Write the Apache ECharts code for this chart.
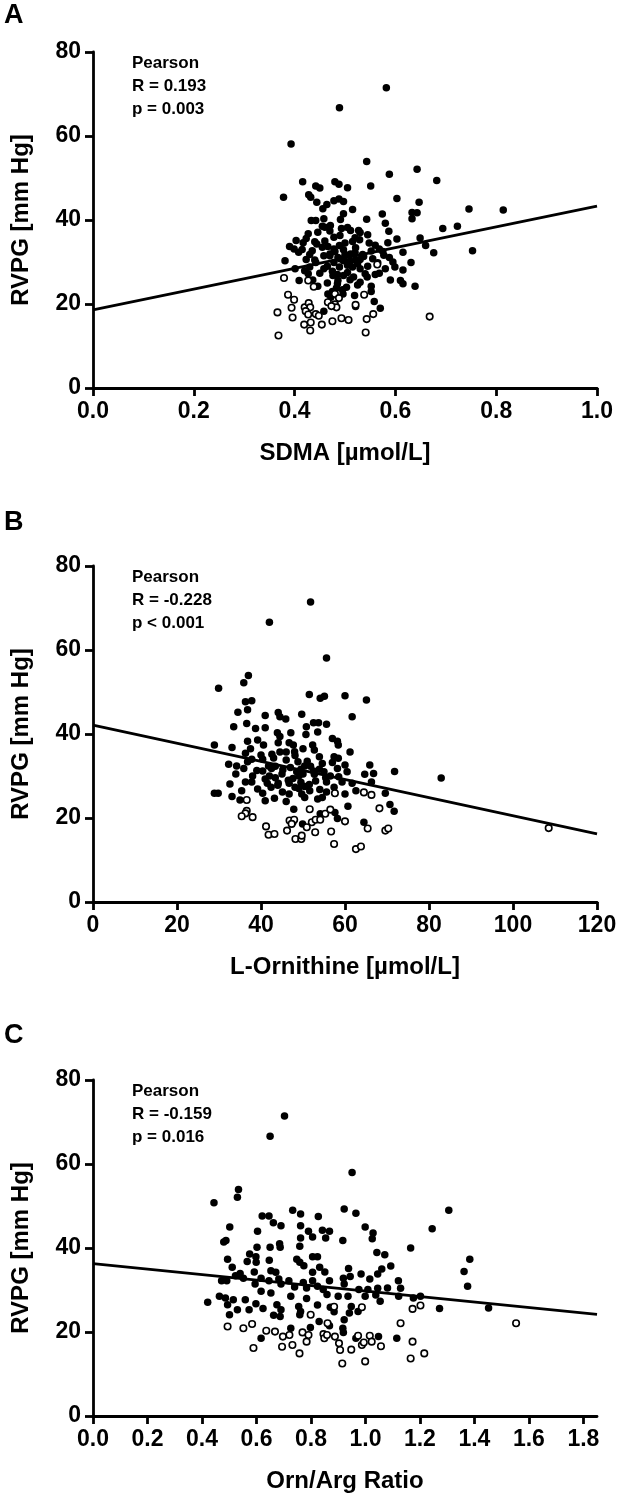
<!DOCTYPE html>
<html>
<head>
<meta charset="utf-8">
<title>RVPG correlations</title>
<script src="https://cdn.jsdelivr.net/npm/echarts@6/dist/echarts.min.js"></script>
<style>
  html, body { margin: 0; padding: 0; background: #fff; }
  #chart { width: 620px; height: 1501px; }
</style>
</head>
<body>
<div id="chart"></div>
<script>
// y axis (shared)
const yTicks = [0, 20, 40, 60, 80];

// panel A: SDMA
const aTicksX = [0, 0.2, 0.4, 0.6, 0.8, 1.0];
const aFilled = [
  [0.582,71.5],[0.489,66.7],[0.393,58.1],[0.543,53.9],[0.643,52.1],[0.588,50.9],[0.682,49.4],[0.416,49.1],
  [0.480,49.1],[0.488,48.5],[0.505,47.7],[0.551,48.1],[0.442,48.1],[0.450,47.6],[0.378,45.4],[0.428,46.0],
  [0.432,45.4],[0.603,45.1],[0.647,44.2],[0.478,44.6],[0.488,45.0],[0.497,44.4],[0.444,44.2],[0.464,43.7],
  [0.456,42.7],[0.515,42.5],[0.746,42.6],[0.814,42.4],[0.633,41.8],[0.643,41.7],[0.497,41.5],[0.574,41.4],
  [0.543,40.2],[0.633,40.3],[0.433,39.9],[0.442,39.9],[0.458,40.3],[0.491,40.1],[0.580,39.2],[0.471,38.7],
  [0.460,38.3],[0.493,38.0],[0.723,38.5],[0.694,38.0],[0.587,37.3],[0.511,37.5],[0.527,37.5],[0.446,37.1],
  [0.427,36.7],[0.478,35.9],[0.423,35.6],[0.603,35.5],[0.649,35.7],[0.403,35.1],[0.417,34.6],[0.515,34.9],
  [0.529,35.3],[0.548,34.5],[0.660,33.9],[0.444,34.3],[0.466,33.7],[0.489,33.9],[0.390,33.7],[0.399,33.1],
  [0.753,32.7],[0.676,32.2],[0.408,32.3],[0.435,32.7],[0.478,33.1],[0.497,32.9],[0.521,33.4],[0.552,32.6],
  [0.568,33.1],[0.615,32.3],[0.458,31.5],[0.470,31.9],[0.486,31.1],[0.511,31.9],[0.537,31.3],[0.577,31.6],
  [0.588,31.1],[0.381,30.3],[0.423,30.6],[0.442,29.9],[0.478,29.9],[0.497,30.3],[0.521,30.5],[0.631,29.9],
  [0.599,28.8],[0.401,28.4],[0.430,28.8],[0.458,28.4],[0.489,28.8],[0.505,29.2],[0.530,28.4],[0.580,28.4],
  [0.615,28.1],[0.568,27.3],[0.427,27.2],[0.450,27.3],[0.476,26.8],[0.497,26.8],[0.517,26.4],[0.544,26.4],
  [0.409,25.6],[0.436,25.7],[0.486,25.6],[0.530,25.2],[0.590,25.7],[0.610,25.6],[0.615,24.8],[0.639,24.2],
  [0.446,24.2],[0.483,23.8],[0.503,24.0],[0.552,24.2],[0.466,22.4],[0.496,22.4],[0.519,22.0],[0.552,23.0],
  [0.558,20.6],[0.521,19.4],[0.570,19.0],[0.472,21.6],[0.458,18.3],
  [0.470,31.5],[0.480,32.5],[0.490,30.8],[0.500,31.8],[0.510,30.2],[0.520,32.2],[0.530,30.6],[0.500,34.5],
  [0.520,35.8],[0.460,35.0],[0.440,30.5],[0.455,33.5],[0.465,29.0],[0.475,27.8],[0.485,27.0],[0.505,27.5],
  [0.515,28.8],[0.525,29.6],[0.535,31.8],[0.545,29.0],[0.555,30.8],[0.565,29.8],[0.490,36.3],[0.470,37.4],
  [0.505,38.2],[0.530,37.0],[0.545,36.5],[0.560,34.0],[0.455,38.5],[0.440,34.8],[0.485,24.8],[0.495,23.4],
  [0.510,25.8],[0.525,24.5],[0.465,25.0],[0.475,23.0],[0.540,27.2],[0.575,32.5],[0.585,34.6],[0.595,30.0],
  [0.560,27.0],[0.430,31.8],[0.415,33.0],[0.420,27.9]
];
const aOpen = [
  [0.379,26.2],[0.427,25.6],[0.438,24.1],[0.564,29.4],[0.387,22.2],[0.399,21.0],[0.394,19.1],[0.396,16.8],
  [0.366,18.0],[0.368,12.5],[0.420,19.2],[0.428,20.2],[0.431,19.2],[0.422,18.3],[0.427,17.5],[0.442,17.6],
  [0.419,15.1],[0.432,15.6],[0.431,13.7],[0.454,15.1],[0.475,15.9],[0.480,22.4],[0.488,21.4],[0.466,20.4],
  [0.480,19.9],[0.483,19.2],[0.493,16.6],[0.507,16.2],[0.538,22.2],[0.521,19.8],[0.543,16.4],[0.556,17.6],
  [0.541,13.2],[0.668,17.0],[0.448,17.2],[0.473,19.5]
];
const aFit = [[0, 18.6], [1.0, 43.3]];

// panel B: L-Ornithine
const bTicksX = [0, 20, 40, 60, 80, 100, 120];
const bFilled = [
  [51.8,71.4],[42.0,66.6],[55.6,58.1],[37.0,53.9],[35.9,52.2],[29.9,50.9],[51.5,49.4],[60.0,49.1],
  [55.1,49.0],[54.1,48.5],[65.1,48.1],[37.8,47.9],[36.3,47.7],[36.8,45.8],[34.5,45.2],[49.7,44.7],
  [41.0,44.4],[44.1,45.1],[44.5,44.1],[45.9,43.6],[61.7,44.1],[52.5,42.7],[53.7,42.7],[55.6,42.3],
  [36.6,42.5],[33.5,41.7],[41.0,41.5],[38.7,41.3],[43.9,40.3],[47.1,40.3],[50.8,41.7],[53.5,40.5],
  [50.7,39.9],[44.5,39.4],[57.0,38.9],[58.2,38.3],[36.8,38.3],[39.2,38.6],[46.7,37.9],[47.7,37.4],
  [44.1,37.9],[52.3,37.4],[28.9,37.4],[40.6,37.4],[58.4,37.4],[33.1,36.8],[52.7,36.2],[61.2,35.7],
  [36.3,35.4],[42.6,35.2],[44.5,35.7],[46.0,35.7],[48.1,34.9],[53.9,34.6],[57.4,34.6],[58.4,34.2],
  [37.8,34.0],[40.4,34.0],[36.8,33.4],[48.8,33.4],[54.6,33.0],[32.3,32.8],[34.2,32.4],[41.8,32.4],
  [43.4,32.3],[60.0,32.6],[65.9,32.6],[71.8,31.1],[50.4,32.4],[51.8,32.3],[35.9,31.8],[40.4,31.2],
  [45.2,31.5],[49.5,31.6],[53.9,31.6],[58.2,31.8],[64.7,30.4],[66.8,30.6],[82.9,29.5],[42.0,30.0],
  [43.4,29.6],[47.6,29.4],[49.0,30.0],[52.7,30.4],[55.4,29.6],[49.5,28.5],[36.3,28.6],[37.8,28.6],
  [41.5,28.3],[44.1,28.3],[46.7,28.3],[55.6,28.6],[59.3,28.6],[61.7,28.3],[66.3,28.6],[32.6,28.1],
  [42.4,27.3],[48.1,27.3],[50.4,27.5],[57.4,27.3],[39.2,26.9],[45.1,26.2],[51.6,26.5],[55.6,26.2],
  [62.6,26.5],[28.9,25.9],[29.8,25.9],[35.4,26.5],[40.4,25.9],[46.7,25.7],[49.7,25.7],[60.0,25.7],
  [69.6,25.9],[33.1,25.1],[35.0,24.3],[43.2,24.7],[41.0,24.1],[46.0,23.9],[53.5,24.5],[54.6,24.9],
  [50.4,24.9],[60.7,22.8],[70.7,23.2],[71.7,21.6],[47.8,22.1],[57.6,21.3],[54.1,21.0],[58.2,19.9],
  [64.5,19.0],[49.9,18.6],[47.6,19.0],
  [47.0,32.0],[48.5,31.0],[50.0,30.5],[51.0,33.5],[52.5,31.2],[45.0,30.5],[43.0,34.3],[46.0,33.8],
  [48.0,35.8],[50.0,36.5],[53.0,28.8],[55.0,31.0],[56.5,30.0],[57.0,33.2],[41.0,29.3],[39.0,31.3],
  [38.0,30.0],[44.0,27.8],[46.5,29.0],[49.0,27.0],[51.5,28.0],[54.0,26.8],[58.5,29.8],[60.5,31.0],
  [42.5,31.8],[40.0,35.0],[37.5,36.5],[34.0,30.5]
];
const bOpen = [
  [36.6,24.3],[36.6,21.7],[36.3,21.1],[35.4,20.4],[38.0,20.2],[41.2,18.0],[41.8,16.0],[43.2,16.2],
  [46.2,17.0],[46.8,19.4],[47.9,19.6],[48.2,15.0],[49.6,15.0],[49.7,15.8],[47.3,18.6],[51.6,22.1],
  [50.9,17.8],[52.1,19.0],[53.0,19.6],[52.9,16.6],[54.1,19.6],[55.3,21.0],[56.5,22.0],[56.7,16.8],
  [57.4,13.8],[57.6,25.9],[60.0,19.2],[62.6,12.6],[63.8,13.2],[64.5,26.1],[66.3,25.5],[65.4,17.5],
  [68.2,22.3],[69.6,17.0],[70.3,17.5],[108.5,17.6]
];
const bFit = [[0, 42.1], [120, 16.2]];

// panel C: Orn/Arg ratio
const cTicksX = [0, 0.2, 0.4, 0.6, 0.8, 1.0, 1.2, 1.4, 1.6, 1.8];
const cFilled = [
  [0.703,71.4],[0.650,66.6],[0.951,58.0],[0.444,50.8],[0.534,53.9],[0.530,52.1],[0.922,49.3],[1.306,49.0],
  [0.733,49.0],[0.762,48.1],[0.965,48.3],[0.827,47.5],[0.621,47.6],[0.646,47.6],[0.662,46.0],[0.690,45.3],
  [0.762,45.3],[0.502,45.0],[1.245,44.6],[0.999,45.0],[0.604,44.0],[0.791,44.0],[0.868,44.0],[0.842,44.2],
  [1.028,43.6],[0.854,42.4],[0.806,42.6],[0.762,42.4],[1.025,42.2],[0.488,41.8],[0.480,41.4],[0.917,41.8],
  [0.685,41.0],[0.687,40.2],[0.650,40.2],[0.759,40.4],[1.166,40.0],[0.602,40.2],[1.042,38.9],[1.071,38.4],
  [0.575,38.6],[0.598,37.9],[0.806,37.9],[0.824,37.9],[1.383,37.3],[0.494,37.3],[0.566,36.8],[0.647,37.1],
  [0.748,37.3],[0.759,36.6],[0.599,36.6],[1.093,35.7],[0.774,35.8],[0.832,35.4],[0.511,35.4],[0.938,35.1],
  [1.060,35.0],[1.362,34.4],[0.592,34.3],[0.653,34.6],[0.851,34.3],[0.806,34.2],[0.671,34.2],[1.045,33.8],
  [0.984,33.8],[0.944,33.2],[0.540,33.9],[0.523,33.4],[0.552,32.8],[0.472,32.2],[0.491,32.2],[0.617,32.8],
  [0.646,32.2],[0.682,32.6],[0.719,32.2],[0.772,31.8],[0.806,32.2],[0.868,32.2],[0.919,32.8],[1.121,32.2],
  [1.016,32.6],[1.375,30.9],[0.595,31.4],[0.690,31.4],[0.740,30.7],[0.784,30.5],[0.824,30.9],[0.845,30.1],
  [0.922,31.4],[1.081,30.5],[1.129,30.4],[1.009,30.1],[1.045,30.4],[0.617,29.7],[0.653,29.3],[0.976,30.1],
  [0.859,28.9],[0.900,28.5],[1.122,28.5],[1.176,28.1],[1.202,28.5],[0.936,28.5],[0.999,28.5],[1.038,28.8],
  [0.464,28.5],[0.486,28.1],[0.515,27.7],[0.559,27.7],[0.726,28.5],[0.784,28.0],[0.421,27.1],[1.054,27.3],
  [1.272,25.6],[1.452,25.7],[0.494,26.5],[0.598,26.7],[0.675,26.5],[0.755,26.1],[0.824,26.4],[0.871,25.9],
  [0.948,26.1],[0.530,25.3],[0.573,25.3],[0.624,25.6],[0.690,25.3],[0.762,24.9],[0.885,24.8],[0.941,24.5],
  [0.973,24.9],[0.501,24.1],[0.663,24.0],[0.687,23.7],[0.759,24.1],[0.922,22.9],[0.830,22.5],[0.868,21.5],
  [0.917,20.9],[0.726,20.9],[0.798,21.1],[0.919,19.9],[1.048,18.9],[0.617,18.5],[1.115,18.5],[0.965,18.5]
];
const cOpen = [
  [0.494,21.3],[0.552,20.9],[0.584,21.9],[0.589,16.2],[0.636,20.3],[0.668,20.1],[0.697,18.9],[0.694,16.5],
  [0.721,19.3],[0.732,16.9],[0.758,14.9],[0.769,19.9],[0.784,17.7],[0.791,19.3],[0.799,24.1],[0.846,19.5],
  [0.849,18.5],[0.861,22.1],[0.859,19.3],[0.888,18.9],[0.885,26.0],[0.903,17.3],[0.907,15.7],[0.915,12.5],
  [0.948,15.8],[0.973,19.1],[0.987,16.9],[0.987,25.9],[0.994,17.5],[0.999,13.0],[1.016,19.1],[1.023,17.7],
  [1.057,16.6],[1.129,22.1],[1.173,25.5],[1.202,26.3],[1.173,17.7],[1.166,13.7],[1.216,14.9],[1.553,22.1]
];
const cFit = [[0, 36.3], [1.85, 24.2]];

const FONT = '"Liberation Sans", Arial, sans-serif';

// one panel = grid + x axis + y axis + three series
const panels = [
  { top: 52,   letter: 'A', letterY: 15,   xName: 'SDMA [µmol/L]',        xMax: 1.0,  ticks: aTicksX, dec: 1,
    filled: aFilled, open: aOpen, fit: aFit, stats: ['Pearson', 'R = 0.193', 'p = 0.003'] },
  { top: 566,  letter: 'B', letterY: 522,  xName: 'L-Ornithine [µmol/L]', xMax: 120,  ticks: bTicksX, dec: 0,
    filled: bFilled, open: bOpen, fit: bFit, stats: ['Pearson', 'R = -0.228', 'p < 0.001'] },
  { top: 1080, letter: 'C', letterY: 1035, xName: 'Orn/Arg Ratio',        xMax: 1.85, ticks: cTicksX, dec: 1,
    filled: cFilled, open: cOpen, fit: cFit, stats: ['Pearson', 'R = -0.159', 'p = 0.016'] }
];

const axisLine = { show: true, onZero: false, lineStyle: { color: '#000', width: 2.8 } };
const axisTick = { show: true, length: 8, lineStyle: { color: '#000', width: 2.8 } };

const grid = [], xAxis = [], yAxis = [], series = [], graphic = [];

panels.forEach((p, i) => {
  grid.push({ left: 93, top: p.top, width: 504, height: 336 });

  xAxis.push({
    type: 'value', gridIndex: i, min: 0, max: p.xMax,
    name: p.xName, nameLocation: 'middle', nameGap: 53,
    nameTextStyle: { fontFamily: FONT, fontSize: 24, fontWeight: 'bold', color: '#000' },
    axisLine: axisLine,
    axisTick: Object.assign({ customValues: p.ticks }, axisTick),
    axisLabel: {
      customValues: p.ticks, margin: 12,
      fontFamily: FONT, fontSize: 23, fontWeight: 'bold', color: '#000',
      formatter: v => v.toFixed(p.dec)
    },
    splitLine: { show: false }
  });

  yAxis.push({
    type: 'value', gridIndex: i, min: 0, max: 80, interval: 20,
    name: 'RVPG [mm Hg]', nameLocation: 'middle', nameGap: 60,
    nameTextStyle: { fontFamily: FONT, fontSize: 24, fontWeight: 'bold', color: '#000' },
    axisLine: axisLine,
    axisTick: Object.assign({ customValues: yTicks }, axisTick),
    axisLabel: {
      customValues: yTicks, margin: 12,
      fontFamily: FONT, fontSize: 23, fontWeight: 'bold', color: '#000'
    },
    splitLine: { show: false }
  });

  series.push({
    type: 'scatter', xAxisIndex: i, yAxisIndex: i, data: p.filled,
    symbol: 'circle', symbolSize: 7.5, itemStyle: { color: '#000', opacity: 1 }
  });
  series.push({
    type: 'scatter', xAxisIndex: i, yAxisIndex: i, data: p.open,
    symbol: 'circle', symbolSize: 6.5,
    itemStyle: { color: '#fff', borderColor: '#000', borderWidth: 1.6, opacity: 1 }
  });
  series.push({
    type: 'line', xAxisIndex: i, yAxisIndex: i, data: p.fit,
    symbol: 'none', lineStyle: { color: '#000', width: 2.8 }, z: 3
  });

  // panel letter
  graphic.push({
    type: 'text', left: 4, top: p.letterY - 13,
    style: { text: p.letter, font: 'bold 27px ' + FONT, fill: '#000' }
  });
  // Pearson stats
  graphic.push({
    type: 'text', left: 132, top: p.top,
    style: { text: p.stats.join('\n'), font: 'bold 17px ' + FONT, fill: '#000', lineHeight: 23 }
  });
});

const chart = echarts.init(document.getElementById('chart'), null, { renderer: 'canvas' });
chart.setOption({
  backgroundColor: '#fff',
  animation: false,
  grid: grid,
  xAxis: xAxis,
  yAxis: yAxis,
  series: series,
  graphic: graphic
});
</script>
</body>
</html>
